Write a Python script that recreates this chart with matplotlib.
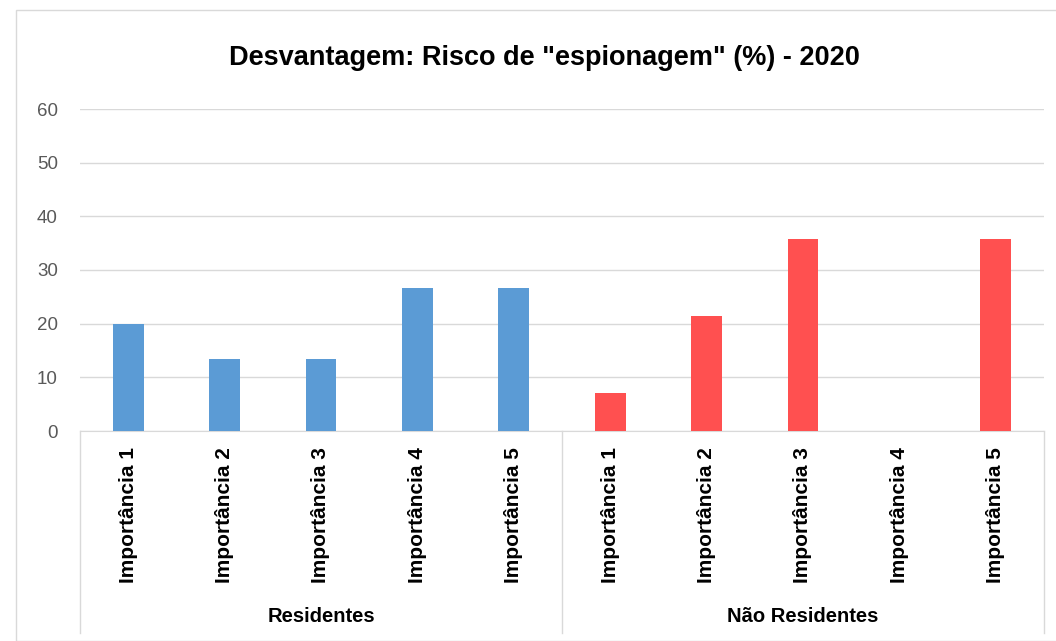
import matplotlib
matplotlib.use("Agg")
import matplotlib.pyplot as plt
from matplotlib.patches import Rectangle
from matplotlib.transforms import blended_transform_factory

title = 'Desvantagem: Risco de "espionagem" (%) - 2020'
groups = ["Residentes", "Não Residentes"]
categories = ["Importância 1", "Importância 2", "Importância 3", "Importância 4", "Importância 5"]
residentes = [20.0, 13.33, 13.33, 26.67, 26.67]
nao_residentes = [7.14, 21.43, 35.71, 0.0, 35.71]
colors = ["#5B9BD5", "#FF5050"]

plt.rcParams['font.family'] = ['Liberation Sans', 'DejaVu Sans']

W, H = 1056, 641
fig = plt.figure(figsize=(W/100, H/100), dpi=100)
fig.patches.append(Rectangle((16/W, 0), 1.2, 1 - 10/H, transform=fig.transFigure,
                             fill=False, edgecolor="#d9d9d9", linewidth=1))
ax = fig.add_axes([80/W, 1 - 431/H, (1044-80)/W, (431-109)/H])

n = len(categories)
x1 = list(range(n))
x2 = [i + n for i in range(n)]
bw = 0.32
ax.bar(x1, residentes, width=bw, color=colors[0], zorder=3)
ax.bar(x2, nao_residentes, width=bw, color=colors[1], zorder=3)

ax.set_xlim(-0.5, 2*n - 0.5)
ax.set_ylim(0, 60)
ax.set_yticks(range(0, 61, 10))
ax.yaxis.grid(True, color="#d9d9d9", linewidth=1, zorder=0)
for s in ["top", "right", "left"]:
    ax.spines[s].set_visible(False)
ax.spines["bottom"].set_color("#d9d9d9")
ax.tick_params(axis="y", length=0, labelsize=13.5, labelcolor="#595959", pad=16)
ax.tick_params(axis="x", length=0)
ax.set_xticks(x1 + x2)
ax.set_xticklabels([])

tr = blended_transform_factory(ax.transData, ax.transAxes)
ybot = -(633 - 431) / (431 - 109)
for xv in [-0.5, n - 0.5, 2*n - 0.5]:
    ax.plot([xv, xv], [0, ybot], transform=tr, color="#d9d9d9", linewidth=1, clip_on=False)

ylab = -(447 - 431) / (431 - 109)
for i, xv in enumerate(x1 + x2):
    ax.text(xv, ylab, categories[i % n], transform=tr, rotation=90, ha="center", va="top",
            fontsize=15, fontweight="bold", color="black")
ygrp = -(617 - 431) / (431 - 109)
ax.text((n - 1) / 2, ygrp, groups[0], transform=tr, ha="center", va="center",
        fontsize=14.5, fontweight="bold")
ax.text(n + (n - 1) / 2, ygrp, groups[1], transform=tr, ha="center", va="center",
        fontsize=14.5, fontweight="bold")

fig.text(544/W, 1 - 58/H, title, ha="center", va="center", fontsize=19.5, fontweight="bold")

fig.savefig("out.png", dpi=100)
